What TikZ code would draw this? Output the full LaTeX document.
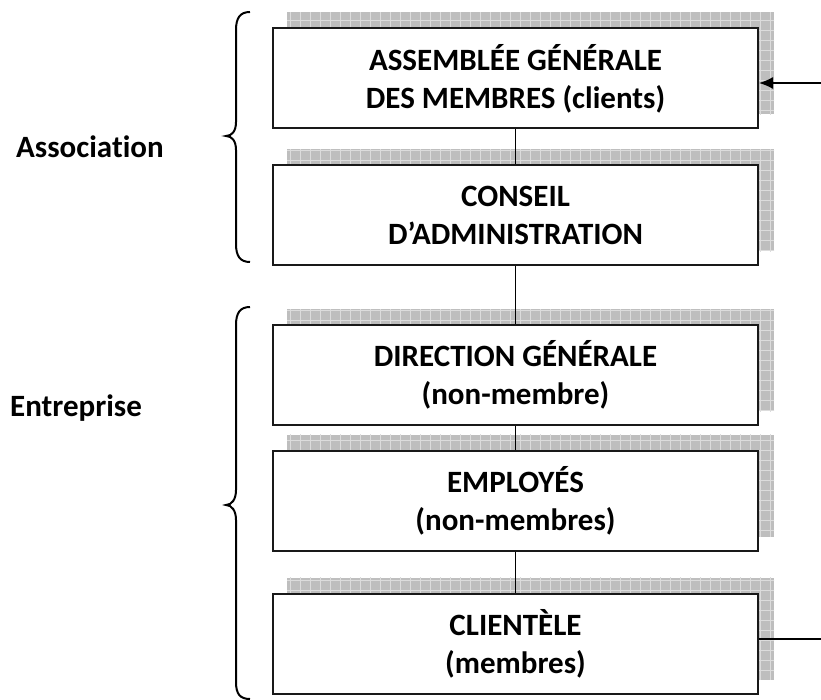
\documentclass[tikz,border=0pt]{standalone}
\usepackage{fontspec}
\setmainfont{Carlito}[RawFeature=-liga]
\usetikzlibrary{backgrounds,arrows.meta}
\definecolor{shgray}{RGB}{190,190,190}
\definecolor{shline}{RGB}{220,220,220}
\tikzset{
  orgbox/.style={draw=black!90, line width=2pt, fill=white, minimum width=485pt, minimum height=100pt, inner sep=0pt, align=center, font=\fontsize{31}{38}\selectfont\bfseries},
  link/.style={draw=black, line width=1.6pt},
  bracepath/.style={draw=black, line width=2pt},
  side/.style={font=\fontsize{31}{36}\selectfont\bfseries, anchor=base west, inner sep=0pt}
}
\begin{document}
\begin{tikzpicture}[x=1pt,y=-1pt]
\useasboundingbox (0,0) rectangle (821,700);
\node[orgbox] (b1) at (515.5,78.5) {ASSEMBLÉE GÉNÉRALE\\DES MEMBRES (clients)};
\node[orgbox] (b2) at (515.5,215.5) {CONSEIL\\D’ADMINISTRATION};
\node[orgbox] (b3) at (515.5,375) {DIRECTION GÉNÉRALE\\(non-membre)};
\node[orgbox] (b4) at (515.5,500.5) {EMPLOYÉS\\(non-membres)};
\node[orgbox] (b5) at (515.5,643.5) {CLIENTÈLE\\(membres)};
\begin{scope}[on background layer]
\foreach \b in {b1,b2,b3,b4,b5}{
  \begin{scope}
    \path[clip] ([shift={(15,-15)}]\b.south west) rectangle ([shift={(15,-15)}]\b.north east);
    \fill[shgray] ([shift={(15,-15)}]\b.south west) rectangle ([shift={(15,-15)}]\b.north east);
    \draw[shline, line width=0.7pt, step=10pt] (0,0) grid (821,700);
  \end{scope}
}
\end{scope}
\draw[link] (b1.south) -- (b2.north);
\draw[link] (b2.south) -- (b3.north);
\draw[link] (b3.south) -- (b4.north);
\draw[link] (b4.south) -- (b5.north);
\coordinate (ain) at (821,83);
\coordinate (aout) at (821,639);
\draw[link, -{Latex[length=14pt,width=12pt]}] (ain) -- (ain -| b1.east);
\draw[link] (aout -| b5.east) -- (aout);
\node[side] (assoc) at (16,158) {Association};
\node[side] (entr) at (10,416) {Entreprise};
\draw[bracepath] (250,12) .. controls (240,12) and (236,18) .. (236,30) -- (236,122) .. controls (236,131) and (232,136) .. (226,136) .. controls (232,136) and (236,141) .. (236,150) -- (236,244) .. controls (236,256) and (240,262) .. (250,262);
\draw[bracepath] (250,307) .. controls (240,307) and (236,313) .. (236,325) -- (236,490) .. controls (236,499) and (232,505) .. (226,505) .. controls (232,505) and (236,511) .. (236,520) -- (236,682) .. controls (236,694) and (240,699) .. (250,699);
\end{tikzpicture}
\end{document}
